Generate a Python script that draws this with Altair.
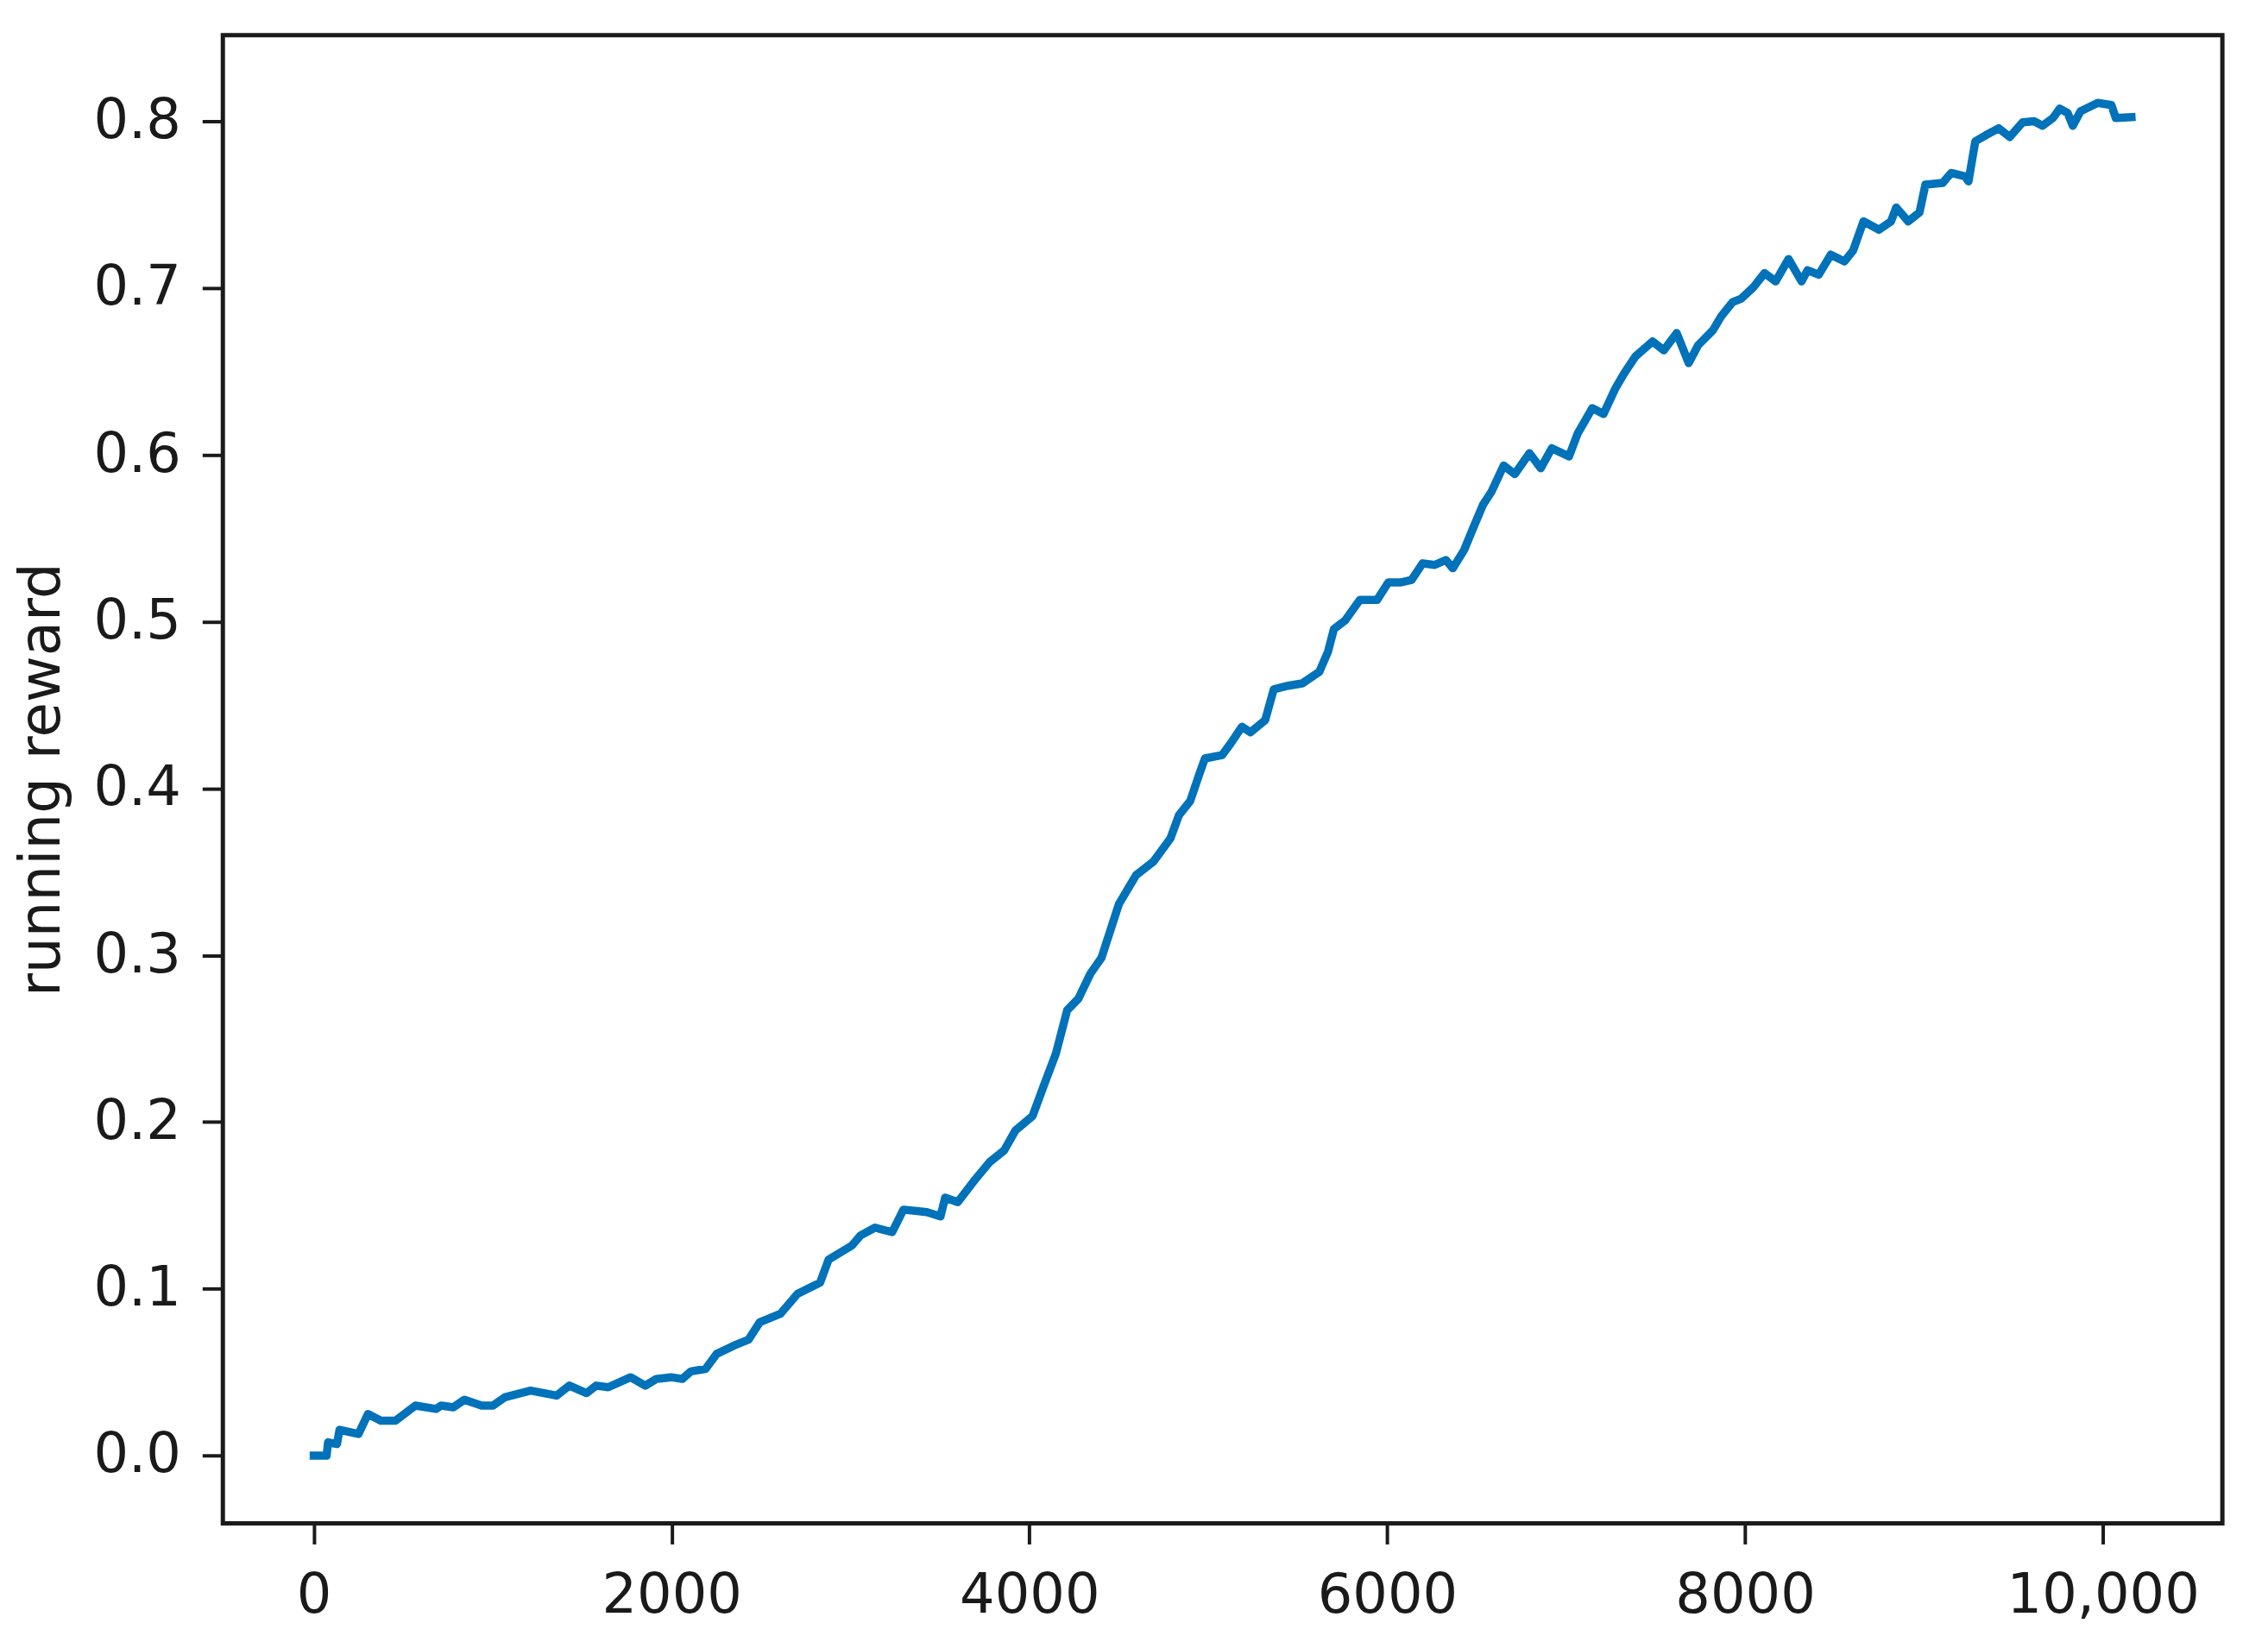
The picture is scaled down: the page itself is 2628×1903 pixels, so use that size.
import altair as alt
import pandas as pd

steps = [0, 72, 80, 130, 144, 250, 303, 375, 457, 568, 683, 712, 780, 842, 938, 1001,
         1068, 1212, 1357, 1429, 1525, 1579, 1646, 1771, 1853, 1915, 1997, 2060, 2108,
         2190, 2252, 2349, 2430, 2493, 2608, 2704, 2830, 2878, 3008, 3056, 3137, 3233,
         3296, 3426, 3503, 3529, 3600, 3697, 3778, 3859, 3922, 4018, 4081, 4148, 4211,
         4274, 4341, 4403, 4500, 4596, 4692, 4788, 4836, 4899, 4948, 4981, 5077, 5125,
         5188, 5236, 5318, 5366, 5447, 5525, 5621, 5669, 5702, 5765, 5847, 5943, 6006,
         6073, 6136, 6198, 6265, 6328, 6367, 6430, 6472, 6535, 6583, 6651, 6713, 6795,
         6858, 6920, 7016, 7064, 7146, 7209, 7276, 7324, 7387, 7483, 7546, 7618, 7685,
         7738, 7820, 7868, 7931, 7979, 8046, 8109, 8171, 8243, 8316, 8349, 8412, 8479,
         8556, 8604, 8662, 8749, 8816, 8845, 8912, 8975, 9008, 9104, 9152, 9229, 9249,
         9287, 9345, 9418, 9480, 9552, 9615, 9663, 9721, 9759, 9803, 9832, 9875, 9971,
         10048, 10072, 10160]

running_reward = [0.0, 0.0, 0.008, 0.007, 0.0155, 0.013, 0.025, 0.021, 0.021, 0.030,
                  0.028, 0.030, 0.029, 0.0335, 0.030, 0.030, 0.035, 0.039, 0.036, 0.042,
                  0.0375, 0.042, 0.041, 0.047, 0.042, 0.046, 0.047, 0.046, 0.0505, 0.052,
                  0.061, 0.066, 0.0695, 0.080, 0.085, 0.097, 0.1037, 0.1176, 0.126, 0.132,
                  0.1367, 0.134, 0.1475, 0.146, 0.1434, 0.1547, 0.152, 0.1656, 0.176,
                  0.183, 0.195, 0.2037, 0.222, 0.241, 0.267, 0.274, 0.289, 0.2985, 0.3306,
                  0.348, 0.356, 0.370, 0.384, 0.3925, 0.408, 0.418, 0.420, 0.427, 0.437,
                  0.4337, 0.441, 0.4595, 0.4616, 0.463, 0.470, 0.482, 0.4956, 0.5008,
                  0.513, 0.513, 0.5235, 0.5235, 0.525, 0.535, 0.534, 0.537, 0.532, 0.543,
                  0.554, 0.570, 0.578, 0.5936, 0.5885, 0.601, 0.592, 0.604, 0.599, 0.6127,
                  0.628, 0.6245, 0.640, 0.6488, 0.659, 0.668, 0.6627, 0.673, 0.655,
                  0.6658, 0.6746, 0.6833, 0.6916, 0.6937, 0.7004, 0.709, 0.704, 0.7174,
                  0.704, 0.7107, 0.708, 0.720, 0.716, 0.7225, 0.740, 0.735, 0.740, 0.7483,
                  0.740, 0.7453, 0.762, 0.763, 0.769, 0.767, 0.764, 0.788, 0.7916, 0.7958,
                  0.7906, 0.7994, 0.800, 0.7973, 0.802, 0.8076, 0.805, 0.7973, 0.806,
                  0.811, 0.8097, 0.802, 0.8025]

x_ticks = [0, 2000, 4000, 6000, 8000, 10000]
y_ticks = [0.0, 0.1, 0.2, 0.3, 0.4, 0.5, 0.6, 0.7, 0.8]

df = pd.DataFrame({"step": steps, "reward": running_reward})

FONT = "DejaVu Sans"
INK = "#1a1a1a"

chart = (
    alt.Chart(df)
    .mark_line(color="#0072BA", strokeWidth=9.5, strokeJoin="round", strokeCap="square")
    .encode(
        x=alt.X(
            "step:Q",
            scale=alt.Scale(domain=[-508, 10668], nice=False, zero=False),
            axis=alt.Axis(
                values=x_ticks,
                title=None,
                labelExpr="datum.value >= 10000 ? format(datum.value, ',') : format(datum.value, 'd')",
                labelPadding=28,
                labelFlush=False,
            ),
        ),
        y=alt.Y(
            "reward:Q",
            scale=alt.Scale(domain=[-0.0406, 0.8516], nice=False, zero=False),
            axis=alt.Axis(
                values=y_ticks,
                format=".1f",
                title="running reward",
                labelPadding=25,
                titlePadding=26,
            ),
        ),
    )
    .properties(
        width=2324,
        height=1730,
        autosize=alt.AutoSizeParams(type="none"),
        padding={"left": 251, "top": 30, "right": 45, "bottom": 135},
    )
    .configure_view(stroke=INK, strokeWidth=5)
    .configure_axis(
        domain=False,
        grid=False,
        ticks=True,
        tickColor=INK,
        tickWidth=4,
        tickSize=24,
        labelFont=FONT,
        labelFontSize=64,
        labelColor=INK,
        labelLimit=0,
        labelOverlap=False,
        titleFont=FONT,
        titleFontSize=66,
        titleFontWeight="normal",
        titleColor=INK,
    )
)

chart.save("out.html", embed_options={"renderer": "svg", "actions": False})
